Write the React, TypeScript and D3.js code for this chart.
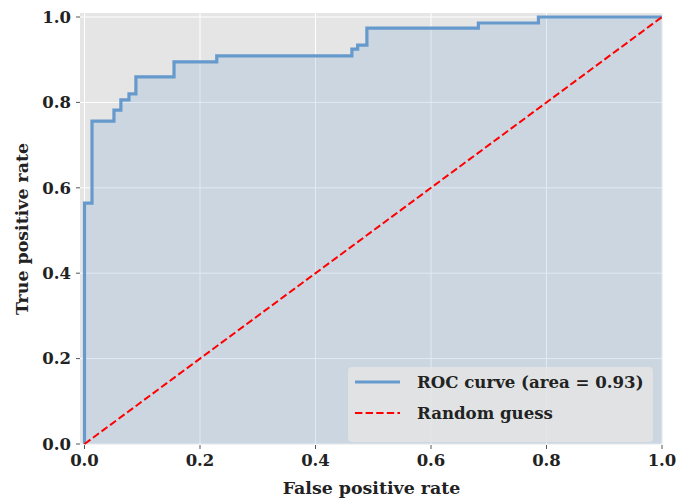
import React from "react";
import * as d3 from "d3";

const fpr = [0, 0, 0.013, 0.051, 0.063, 0.077, 0.089, 0.155, 0.229, 0.463, 0.473, 0.489, 0.682, 0.786, 1.0];
const tpr = [0, 0.564, 0.756, 0.782, 0.806, 0.82, 0.86, 0.895, 0.909, 0.925, 0.934, 0.974, 0.986, 1.0, 1.0];
const diagX = [0, 1];
const diagY = [0, 1];
const ticks = [0, 0.2, 0.4, 0.6, 0.8, 1.0];
const legendLabels = ["ROC curve (area = 0.93)", "Random guess"];

const W = 691;
const H = 500;
const plotLeft = 80;
const plotRight = 663;
const plotTop = 13;
const plotBottom = 445;
const FONT = "'DejaVu Serif', serif";

export default function App() {
  const x = d3.scaleLinear().domain([0, 1]).range([84.5, 662]);
  const y = d3.scaleLinear().domain([0, 1]).range([444, 17]);
  const pts: [number, number][] = fpr.map((f, i) => [f, tpr[i]]);
  const line = d3
    .line<[number, number]>()
    .x((d) => x(d[0]))
    .y((d) => y(d[1]))
    .curve(d3.curveStepAfter);
  const area = d3
    .area<[number, number]>()
    .x((d) => x(d[0]))
    .y0(y(0))
    .y1((d) => y(d[1]))
    .curve(d3.curveStepAfter);
  const diag: [number, number][] = diagX.map((v, i) => [v, diagY[i]]);
  const diagLine = d3
    .line<[number, number]>()
    .x((d) => x(d[0]))
    .y((d) => y(d[1]));

  const lx = 348, ly = 367, lw = 305, lh = 75;

  return (
    <svg width={W} height={H} style={{ position: "absolute", left: 0, top: 0 }} fontFamily={FONT}>
      <rect x={0} y={0} width={W} height={H} fill="#ffffff" />
      <rect x={plotLeft} y={plotTop} width={plotRight - plotLeft} height={plotBottom - plotTop} fill="#e5e5e5" />
      {ticks.map((t) => (
        <line key={"gx" + t} x1={x(t)} x2={x(t)} y1={plotTop} y2={plotBottom} stroke="#ffffff" strokeWidth={1} />
      ))}
      {ticks.map((t) => (
        <line key={"gy" + t} x1={plotLeft} x2={plotRight} y1={y(t)} y2={y(t)} stroke="#ffffff" strokeWidth={1} />
      ))}
      <path d={area(pts) || ""} fill="#6699cc" fillOpacity={0.2} />
      <path d={line(pts) || ""} fill="none" stroke="#6699cc" strokeWidth={3.2} />
      <path d={diagLine(diag) || ""} fill="none" stroke="#ff0000" strokeWidth={2} strokeDasharray="7.4,3.2" />
      {ticks.map((t) => (
        <g key={"tx" + t}>
          <line x1={x(t)} x2={x(t)} y1={plotBottom} y2={plotBottom + 4} stroke="#555" strokeWidth={1} />
          <text x={x(t)} y={plotBottom + 21} textAnchor="middle" fontSize={16.5} fontWeight="bold" fill="#222">
            {d3.format(".1f")(t)}
          </text>
        </g>
      ))}
      {ticks.map((t) => (
        <g key={"ty" + t}>
          <line x1={plotLeft - 4} x2={plotLeft} y1={y(t)} y2={y(t)} stroke="#555" strokeWidth={1} />
          <text x={plotLeft - 9} y={y(t)} dy="0.35em" textAnchor="end" fontSize={16.5} fontWeight="bold" fill="#222">
            {d3.format(".1f")(t)}
          </text>
        </g>
      ))}
      <text x={(plotLeft + plotRight) / 2} y={494} textAnchor="middle" fontSize={17.4} fontWeight="bold" fill="#222">
        False positive rate
      </text>
      <text
        transform={`translate(28,${(plotTop + plotBottom) / 2}) rotate(-90)`}
        textAnchor="middle"
        fontSize={17.4}
        fontWeight="bold"
        fill="#222"
      >
        True positive rate
      </text>
      <rect x={lx} y={ly} width={lw} height={lh} rx={4} fill="#e5e5e5" fillOpacity={0.8} />
      <line x1={lx + 7} x2={lx + 52} y1={ly + 15} y2={ly + 15} stroke="#6699cc" strokeWidth={3.2} />
      <line x1={lx + 7} x2={lx + 52} y1={ly + 46} y2={ly + 46} stroke="#ff0000" strokeWidth={2} strokeDasharray="7.4,3.2" />
      <text x={lx + 69} y={ly + 15} dy="0.35em" fontSize={16.6} fontWeight="bold" fill="#222">
        {legendLabels[0]}
      </text>
      <text x={lx + 69} y={ly + 46} dy="0.35em" fontSize={16.6} fontWeight="bold" fill="#222">
        {legendLabels[1]}
      </text>
    </svg>
  );
}
